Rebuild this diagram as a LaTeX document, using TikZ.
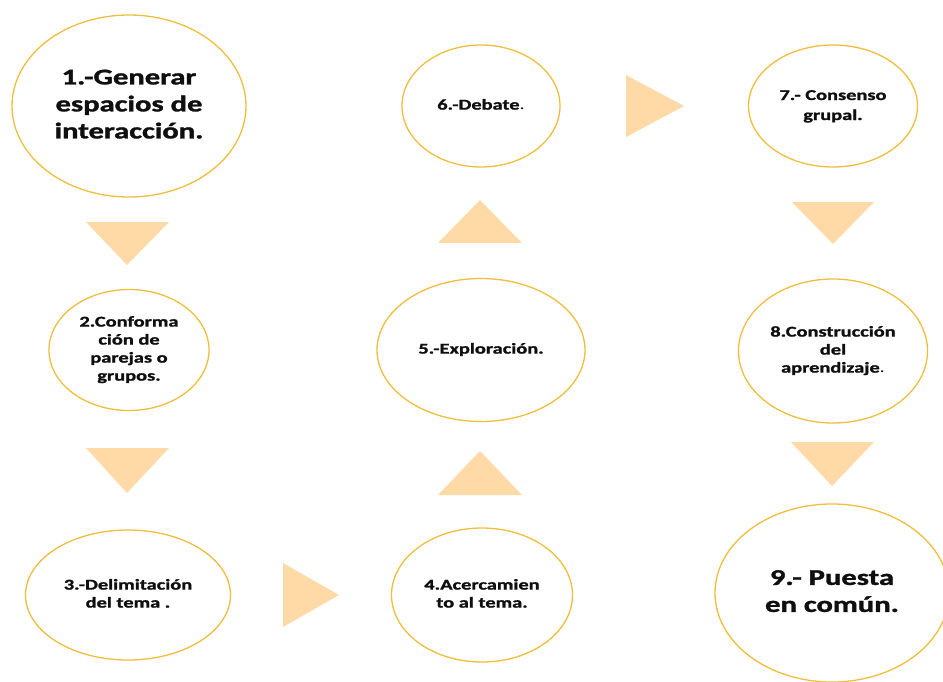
\documentclass[tikz,border=0pt]{standalone}
\usepackage{fontspec}
\setmainfont{Carlito}[BoldFeatures={FakeBold=1.2}]
\usetikzlibrary{shapes.geometric}
\definecolor{gold}{RGB}{238,190,60}
\definecolor{peach}{RGB}{255,218,166}
\definecolor{ink}{RGB}{15,15,15}
\newcommand\lbl[3]{\scalebox{1.36}[1]{\fontsize{#1}{#2}\selectfont\bfseries\begin{tabular}{@{}c@{}}#3\end{tabular}}}
\begin{document}
\begin{tikzpicture}[x=1pt,y=-1pt,
  elli/.style={ellipse, draw=gold, line width=1.3pt, fill=white, inner sep=0pt},
  txt/.style={inner sep=0pt, text=ink},
  tri/.style={fill=peach, draw=none}]
\useasboundingbox (0,0) rectangle (943,681);
\clip (0,0) rectangle (943,681);
% ellipses
\node[elli, minimum width=234pt, minimum height=182pt] (n1) at (129,106) {};
\node[elli, minimum width=160pt, minimum height=121pt] (n2) at (129,350) {};
\node[elli, minimum width=205pt, minimum height=130pt] (n3) at (128,595) {};
\node[elli, minimum width=181pt, minimum height=134pt] (n4) at (482,595) {};
\node[elli, minimum width=208pt, minimum height=143pt] (n5) at (481,350) {};
\node[elli, minimum width=158pt, minimum height=122pt] (n6) at (481,106) {};
\node[elli, minimum width=169pt, minimum height=122pt] (n7) at (833,106) {};
\node[elli, minimum width=189pt, minimum height=144pt] (n8) at (833,351) {};
\node[elli, minimum width=234pt, minimum height=178pt] (n9) at (832,593) {};
% texts
\node[txt] (t1) at (n1) {\lbl{22.5}{27}{1.-Generar\\espacios de\\interacción.}};
\node[txt] (t2) at (n2) {\lbl{15}{18}{2.Conforma\\ción de\\parejas o\\grupos.}};
\node[txt] (t3) at (n3) {\lbl{15}{18}{3.-Delimitación\\del tema .}};
\node[txt] (t4) at (n4) {\lbl{15}{18}{4.Acercamien\\to al tema.}};
\node[txt] (t5) at (n5) {\lbl{15}{18}{5.-Exploración.}};
\node[txt] (t6) at (n6) {\lbl{15}{18}{6.-Debate{\mdseries .}}};
\node[txt] (t7) at (n7) {\lbl{15}{20}{7.- Consenso\\grupal.}};
\node[txt] (t8) at (n8) {\lbl{15}{18}{8.Construcción\\del\\aprendizaje{\mdseries .}}};
\node[txt] (t9) at (n9) {\lbl{22.5}{27}{9.- Puesta\\en común.}};
% triangle connectors
\fill[tri] (86,222) -- (169,222) -- (127,265) -- cycle;
\fill[tri] (86,448) -- (169,448) -- (127,493) -- cycle;
\fill[tri] (283,563) -- (283,627) -- (339,595) -- cycle;
\fill[tri] (438,495) -- (522,495) -- (480,451) -- cycle;
\fill[tri] (438,243) -- (522,243) -- (480,200) -- cycle;
\fill[tri] (626,75) -- (626,137) -- (684,106) -- cycle;
\fill[tri] (792,202) -- (874,202) -- (833,244) -- cycle;
\fill[tri] (791,442) -- (874,442) -- (832,486) -- cycle;
\end{tikzpicture}
\end{document}
